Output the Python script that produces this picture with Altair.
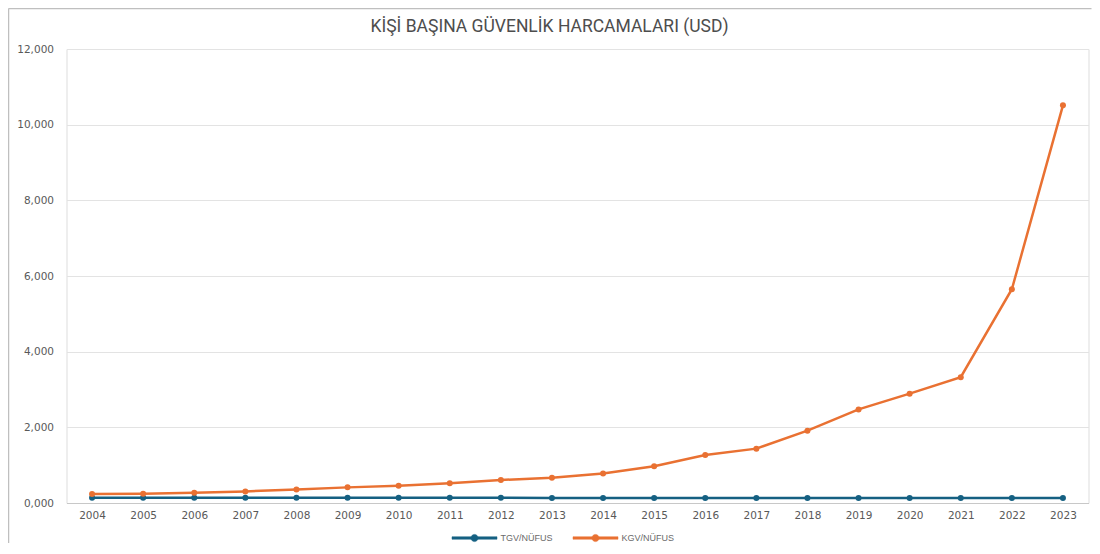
import altair as alt
import pandas as pd

years = [str(y) for y in range(2004, 2024)]
tgv = [140, 140, 140, 140, 140, 140, 140, 140, 140, 132, 132, 132, 132, 132, 132, 132, 132, 132, 132, 132]
kgv = [237, 246, 272, 307, 360, 413, 458, 519, 608, 665, 779, 974, 1271, 1437, 1911, 2474, 2890, 3325, 5650, 10510]
series_names = ["TGV/NÜFUS", "KGV/NÜFUS"]
colors = ["#156082", "#E97132"]
y_ticks = [0, 2000, 4000, 6000, 8000, 10000, 12000]
title_text = ["KİŞİ BAŞINA GÜVENLİK HARCAMALARI (USD)"]

df = pd.DataFrame({
    "Yıl": years * 2,
    "Seri": [series_names[0]] * len(years) + [series_names[1]] * len(years),
    "Değer": tgv + kgv,
})

sym = ("M-1,-0.055L1,-0.055L1,0.055L-1,0.055Z "
       "M0.16,0A0.16,0.16 0 1 1 -0.16,0A0.16,0.16 0 1 1 0.16,0Z")

color = alt.Color(
    "Seri:N",
    scale=alt.Scale(domain=series_names, range=colors),
    sort=series_names,
    legend=alt.Legend(
        title=None, orient="none", direction="horizontal",
        legendX=385, legendY=466,
        symbolType=sym, symbolSize=2025, symbolStrokeWidth=0.5,
        labelFontSize=9, labelColor="#6a6a6a", labelFont="Liberation Sans",
        labelOffset=3, columnPadding=18,
    ),
)

x = alt.X("Yıl:O", scale=alt.Scale(type="point", padding=0.5),
          axis=alt.Axis(title=None, labelAngle=0, ticks=False, grid=False,
                        domainColor="#c8c8c8", labelColor="#595959",
                        labelFontSize=10.5, labelFont="DejaVu Sans", labelPadding=7))
y = alt.Y("Değer:Q", scale=alt.Scale(domain=[0, 12000], nice=False),
          axis=alt.Axis(title=None, values=y_ticks, ticks=False, domain=False,
                        gridColor="#e3e3e3", labelColor="#595959", labelFontSize=10.5,
                        labelFont="DejaVu Sans", labelPadding=13,
                        labelExpr="datum.value == 0 ? '0,000' : format(datum.value, ',')"))

title = alt.Chart(pd.DataFrame({"t": title_text})).mark_text(
    font="Roboto", fontSize=17.5, color="#4d4d4d", align="center",
    baseline="middle"
).encode(text="t:N", x=alt.value(483), y=alt.value(-22))

frame = alt.Chart(pd.DataFrame({"a": [0]})).mark_rule(
    stroke="#bfbfbf", strokeWidth=1.5
).encode(x=alt.value(-58), x2=alt.value(1025), y=alt.value(-40.5))
frame_l = alt.Chart(pd.DataFrame({"a": [0]})).mark_rule(
    stroke="#bfbfbf", strokeWidth=1.5
).encode(x=alt.value(-58), y=alt.value(-40.5), y2=alt.value(500))

line = alt.Chart(df).mark_line(strokeWidth=2.5).encode(x=x, y=y, color=color)
pts = alt.Chart(df).mark_circle(size=36, opacity=1).encode(x=x, y=y, color=color)

chart = alt.layer(frame, frame_l, title, line, pts).properties(
    width=1022, height=454,
    autosize=alt.AutoSizeParams(type="none"),
    padding={"left": 58.5, "top": 41, "right": 3, "bottom": 40},
).configure_view(stroke=None).configure(background="white")

chart.save("out.html", embed_options={"renderer": "svg", "actions": False})
